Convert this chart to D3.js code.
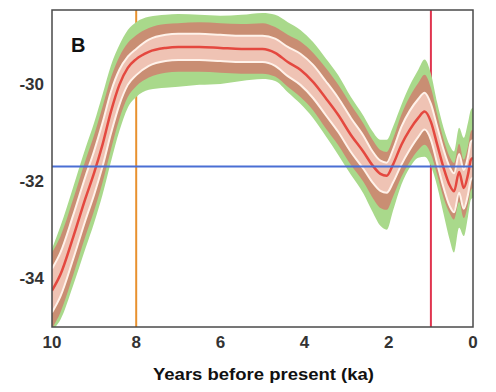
<!DOCTYPE html>
<html>
<head>
<meta charset="utf-8">
<script src="https://cdn.jsdelivr.net/npm/d3@7/dist/d3.min.js"></script>
<style>
  html, body { margin: 0; padding: 0; background: #fff; }
  svg { display: block; }
  text { font-family: "Liberation Sans", Arial, sans-serif; }
</style>
</head>
<body>
<svg id="chart" width="496" height="392"></svg>
<script>
// ---- data ----
const ka = [10, 9.8, 9.5, 9.2, 9.0, 8.8, 8.6, 8.4, 8.2, 8.0, 7.7, 7.3, 7.0, 6.5, 6.0, 5.5, 5.0, 4.7, 4.4, 4.1, 3.8, 3.5, 3.2, 2.9, 2.6, 2.4, 2.2, 2.05, 1.9, 1.7, 1.5, 1.3, 1.15, 1.0, 0.85, 0.7, 0.55, 0.45, 0.33, 0.22, 0.12, 0.05, 0];
const center = [-34.25, -33.92, -33.16, -32.34, -31.83, -31.25, -30.57, -30.02, -29.67, -29.49, -29.34, -29.26, -29.24, -29.24, -29.26, -29.28, -29.28, -29.36, -29.55, -29.71, -29.96, -30.29, -30.64, -31.05, -31.40, -31.66, -31.85, -31.89, -31.66, -31.25, -30.94, -30.70, -30.57, -30.78, -31.25, -31.72, -32.09, -32.21, -31.81, -32.14, -31.87, -31.56, -31.52];
// half-widths of the inner (white-edged) band, above / below
const innerUp = [0.45, 0.45, 0.45, 0.45, 0.45, 0.45, 0.41, 0.31, 0.23, 0.21, 0.25, 0.27, 0.27, 0.27, 0.27, 0.27, 0.27, 0.29, 0.31, 0.33, 0.35, 0.35, 0.35, 0.35, 0.33, 0.29, 0.27, 0.27, 0.31, 0.37, 0.39, 0.39, 0.39, 0.37, 0.37, 0.37, 0.37, 0.37, 0.37, 0.37, 0.37, 0.37, 0.37];
const innerDn = [0.45, 0.45, 0.45, 0.45, 0.45, 0.45, 0.45, 0.41, 0.35, 0.33, 0.29, 0.27, 0.27, 0.27, 0.27, 0.27, 0.27, 0.27, 0.29, 0.31, 0.33, 0.35, 0.35, 0.35, 0.35, 0.35, 0.35, 0.35, 0.37, 0.41, 0.41, 0.39, 0.37, 0.37, 0.39, 0.41, 0.43, 0.43, 0.43, 0.43, 0.41, 0.41, 0.41];
// half-widths of the brown band
const brownUp = [0.78, 0.78, 0.78, 0.78, 0.78, 0.78, 0.70, 0.58, 0.51, 0.49, 0.49, 0.49, 0.49, 0.51, 0.51, 0.51, 0.53, 0.53, 0.56, 0.58, 0.60, 0.62, 0.62, 0.62, 0.58, 0.53, 0.49, 0.49, 0.53, 0.62, 0.68, 0.72, 0.76, 0.70, 0.62, 0.58, 0.58, 0.58, 0.58, 0.58, 0.58, 0.58, 0.58];
const brownDn = [0.78, 0.78, 0.78, 0.78, 0.78, 0.78, 0.78, 0.70, 0.60, 0.56, 0.53, 0.51, 0.51, 0.51, 0.51, 0.51, 0.51, 0.49, 0.51, 0.56, 0.58, 0.62, 0.62, 0.62, 0.62, 0.66, 0.70, 0.70, 0.66, 0.66, 0.66, 0.66, 0.68, 0.66, 0.62, 0.62, 0.58, 0.58, 0.62, 0.62, 0.62, 0.62, 0.62];
// half-widths of the outer green envelope
const greenUp = [0.86, 0.99, 1.03, 1.03, 1.03, 1.03, 0.95, 0.82, 0.78, 0.76, 0.72, 0.68, 0.68, 0.66, 0.66, 0.70, 0.74, 0.78, 0.82, 0.82, 0.82, 0.82, 0.82, 0.78, 0.74, 0.70, 0.70, 0.74, 0.78, 0.82, 0.91, 0.99, 1.07, 0.99, 0.86, 0.82, 0.82, 0.82, 0.91, 1.03, 1.07, 1.03, 1.03];
const greenDn = [0.82, 0.93, 0.99, 1.03, 1.03, 1.03, 1.03, 0.95, 0.82, 0.78, 0.78, 0.82, 0.82, 0.78, 0.74, 0.66, 0.62, 0.58, 0.62, 0.70, 0.74, 0.78, 0.82, 0.82, 0.86, 0.95, 1.07, 1.11, 0.95, 0.82, 0.78, 0.82, 0.93, 0.91, 0.86, 0.95, 1.13, 1.26, 1.15, 0.99, 0.86, 0.82, 0.82];

const xTicks = [10, 8, 6, 4, 2, 0];
const yTicks = [-30, -32, -34];
const markerOrangeKa = 8.0;
const markerRedKa = 1.0;
const refLevel = -31.7;
const panelLabel = "B";
const xTitle = "Years before present (ka)";

// ---- layout ----
const svg = d3.select("#chart");
const L = 52, R = 473, T = 10, B = 327;
const x = d3.scaleLinear().domain([10, 0]).range([L, R]);
const y = d3.scaleLinear().domain([-35, -28.48]).range([B, T]);

const pts = ka.map((k, i) => ({k, c: center[i],
  iu: center[i] + innerUp[i], id: center[i] - innerDn[i],
  bu: center[i] + brownUp[i], bd: center[i] - brownDn[i],
  gu: center[i] + greenUp[i], gd: center[i] - greenDn[i]}));

svg.append("defs").append("clipPath").attr("id", "clip")
  .append("rect").attr("x", L).attr("y", T).attr("width", R - L).attr("height", B - T);

const plot = svg.append("g").attr("clip-path", "url(#clip)");
plot.append("rect").attr("x", L).attr("y", T).attr("width", R - L).attr("height", B - T).attr("fill", "#ffffff");

// vertical marker lines (beneath the bands)
plot.append("line").attr("x1", x(markerOrangeKa)).attr("x2", x(markerOrangeKa))
  .attr("y1", T).attr("y2", B).attr("stroke", "#e8912f").attr("stroke-width", 2);
plot.append("line").attr("x1", x(markerRedKa)).attr("x2", x(markerRedKa))
  .attr("y1", T).attr("y2", B).attr("stroke", "#e0354f").attr("stroke-width", 2);

const curve = d3.curveMonotoneX;
const band = (lo, hi) => d3.area().x(d => x(d.k)).y0(d => y(d[lo])).y1(d => y(d[hi])).curve(curve);
const line = key => d3.line().x(d => x(d.k)).y(d => y(d[key])).curve(curve);

plot.append("path").datum(pts).attr("d", band("gd", "gu")).attr("fill", "#a9d98b");
plot.append("path").datum(pts).attr("d", band("bd", "bu")).attr("fill", "#c98e73");
plot.append("path").datum(pts).attr("d", band("id", "iu")).attr("fill", "#efc3b4");
plot.append("path").datum(pts).attr("d", line("iu")).attr("fill", "none").attr("stroke", "#fff2ea").attr("stroke-width", 2);
plot.append("path").datum(pts).attr("d", line("id")).attr("fill", "none").attr("stroke", "#fff2ea").attr("stroke-width", 2);
plot.append("path").datum(pts).attr("d", line("c")).attr("fill", "none").attr("stroke", "#e4483f").attr("stroke-width", 2.5);

// horizontal reference line (on top)
plot.append("line").attr("x1", L).attr("x2", R).attr("y1", y(refLevel)).attr("y2", y(refLevel))
  .attr("stroke", "#4a6fd4").attr("stroke-width", 2);

// frame
svg.append("rect").attr("x", L).attr("y", T).attr("width", R - L).attr("height", B - T)
  .attr("fill", "none").attr("stroke", "#4a4a4a").attr("stroke-width", 1.5);

// tick labels
svg.append("g").selectAll("text").data(xTicks).join("text")
  .attr("x", d => x(d)).attr("y", 348).attr("text-anchor", "middle")
  .attr("font-size", 17).attr("font-weight", "bold").attr("fill", "#333")
  .text(d => d);
svg.append("g").selectAll("text").data(yTicks).join("text")
  .attr("x", 44).attr("y", d => y(d) + 6).attr("text-anchor", "end")
  .attr("font-size", 17).attr("font-weight", "bold").attr("fill", "#333")
  .text(d => d);

// panel label and axis title
svg.append("text").attr("x", 71).attr("y", 52).attr("font-size", 20).attr("font-weight", "bold")
  .attr("fill", "#111").text(panelLabel);
svg.append("text").attr("x", 153).attr("y", 380).attr("font-size", 17).attr("font-weight", "bold")
  .attr("fill", "#111").attr("textLength", 221).attr("lengthAdjust", "spacingAndGlyphs").text(xTitle);
</script>
</body>
</html>
